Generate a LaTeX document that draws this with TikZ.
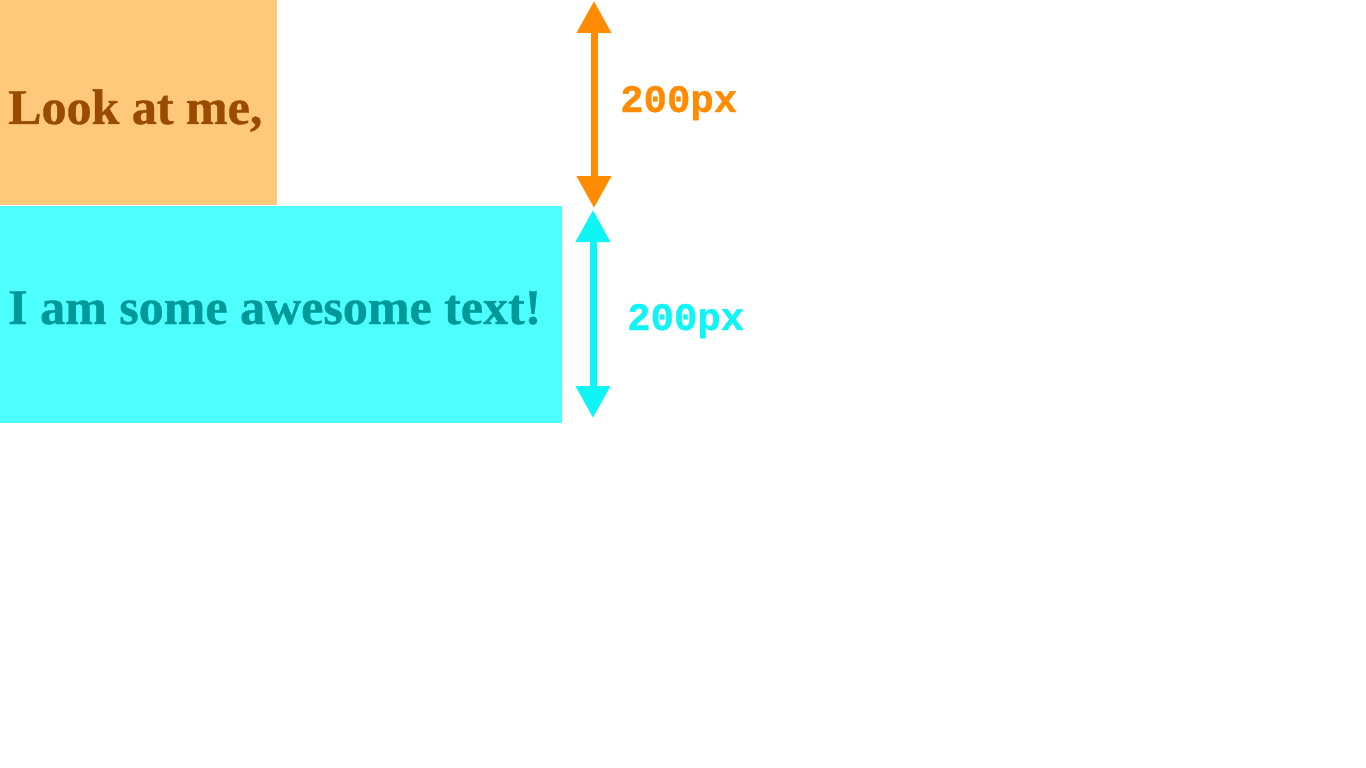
\documentclass[tikz,border=0pt]{standalone}
\usepackage{fontspec}
\newfontfamily\serifb[FakeBold=0.8]{Liberation Serif Bold}
\newfontfamily\monob[FakeBold=0.8]{Liberation Mono Bold}
\usetikzlibrary{arrows.meta}
\definecolor{boxorange}{HTML}{FFC87A}
\definecolor{txtorange}{HTML}{994C00}
\definecolor{boxcyan}{HTML}{4DFFFF}
\definecolor{txtcyan}{HTML}{009999}
\definecolor{arrorange}{HTML}{FF8C00}
\definecolor{arrcyan}{HTML}{0FF5F5}
\tikzset{
  dimarrow/.style={line width=7pt,{Triangle[width=33pt,length=32pt]}-{Triangle[width=33pt,length=32pt]}},
  bigtext/.style={font=\fontsize{50}{60}\selectfont\serifb,inner sep=0pt,anchor=base west},
  dimtext/.style={font=\fontsize{39}{46}\selectfont\monob,inner sep=0pt,anchor=base west}
}
\begin{document}
\begin{tikzpicture}[x=1pt,y=-1pt]
\useasboundingbox (0,0) rectangle (1366,768);
\fill[white] (0,0) rectangle (1366,768);
\fill[boxorange] (0,0) rectangle (277,205) coordinate (ob);
\fill[boxcyan] (0,206) rectangle (562,423) coordinate (cb);
\node[bigtext,text=txtorange] (t1) at (8,124) {Look at me,};
\node[bigtext,text=txtcyan] (t2) at (8,324) {I am some awesome text!};
\coordinate (oa1) at (594,1);
\coordinate (oa2) at (594,208);
\coordinate (ca1) at (593,210);
\coordinate (ca2) at (593,418);
\draw[dimarrow,arrorange] (oa1) -- (oa2);
\draw[dimarrow,arrcyan] (ca1) -- (ca2);
\node[dimtext,text=arrorange] (d1) at (620,112) {200px};
\node[dimtext,text=arrcyan] (d2) at (627,330) {200px};
\end{tikzpicture}
\end{document}
